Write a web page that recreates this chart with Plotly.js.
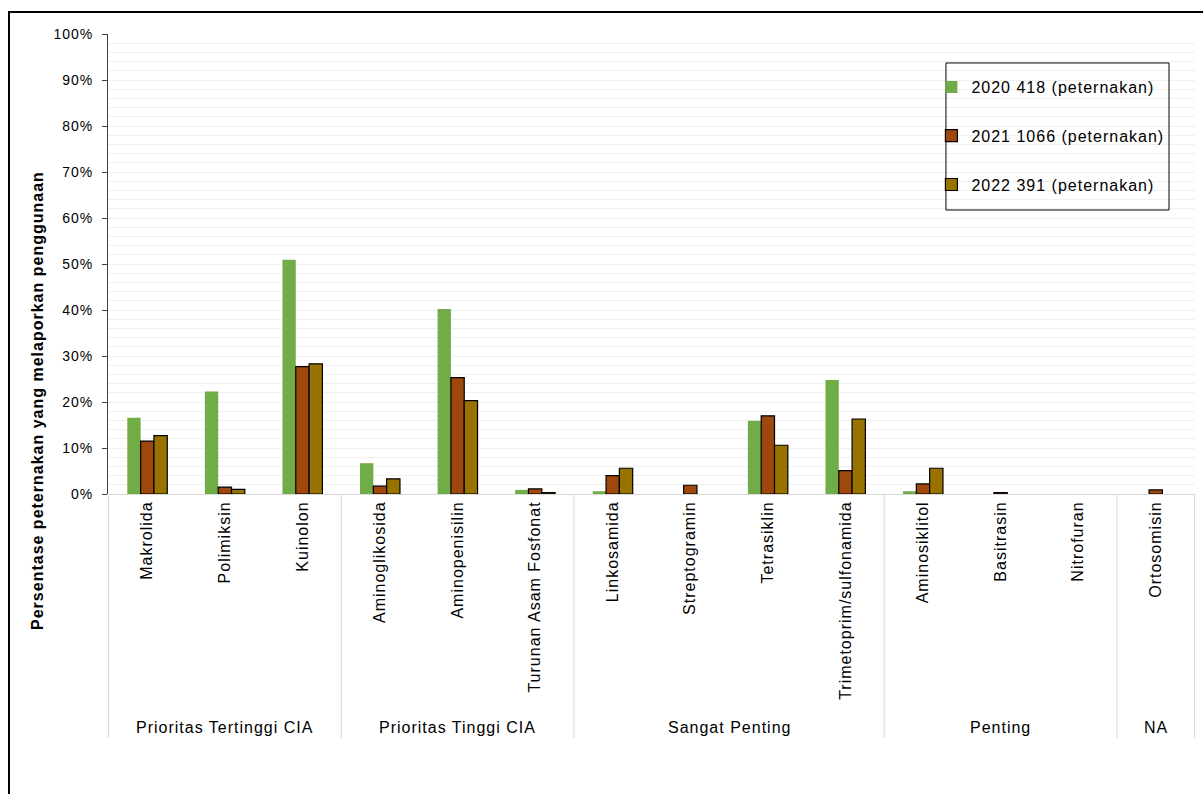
<!DOCTYPE html>
<html>
<head>
<meta charset="utf-8">
<script src="https://cdn.plot.ly/plotly-3.0.1.min.js"></script>
<style>
  html, body { margin: 0; padding: 0; background: #fff; }
  #wrap { position: relative; width: 1203px; height: 794px; overflow: hidden; }
  #chart { position: absolute; left: 0; top: 0; width: 1203px; height: 794px; }
  #frame { position: absolute; left: 8px; top: 11px; width: 1300px; height: 900px;
           border-top: 2px solid #000; border-left: 2px solid #000; pointer-events: none; }
  /* slightly open tracking for all chart text (also applies to Plotly's measuring svg) */
  svg text { letter-spacing: 1px; }
</style>
</head>
<body>
<div id="wrap">
  <div id="chart"></div>
  <div id="frame"></div>
</div>
<script>
// Antimicrobial classes, grouped by WHO importance category
const categories = [
  "Makrolida", "Polimiksin", "Kuinolon",
  "Aminoglikosida", "Aminopenisilin", "Turunan Asam Fosfonat",
  "Linkosamida", "Streptogramin", "Tetrasiklin", "Trimetoprim/sulfonamida",
  "Aminosiklitol", "Basitrasin", "Nitrofuran",
  "Ortosomisin"
];
const groupLabels = ["Prioritas Tertinggi CIA", "Prioritas Tinggi CIA", "Sangat Penting", "Penting", "NA"];
const groupSizes = [3, 3, 4, 3, 1];

// Share of farms reporting use (fraction), per survey year
const seriesNames = ["2020 418 (peternakan)", "2021 1066 (peternakan)", "2022 391 (peternakan)"];
const values2020 = [0.166, 0.223, 0.509, 0.067, 0.402, 0.009, 0.006, null, 0.159, 0.248, 0.006, null, null, null];
const values2021 = [0.115, 0.015, 0.277, 0.017, 0.253, 0.011, 0.040, 0.019, 0.170, 0.051, 0.022, 0.003, null, 0.009];
const values2022 = [0.127, 0.010, 0.283, 0.033, 0.203, 0.003, 0.056, null, 0.106, 0.163, 0.056, null, null, null];

const yTickVals = [0, 0.1, 0.2, 0.3, 0.4, 0.5, 0.6, 0.7, 0.8, 0.9, 1.0];
const yTickText = ["0%", "10%", "20%", "30%", "40%", "50%", "60%", "70%", "80%", "90%", "100%"];

const colors = ["#70AD47", "#9E480E", "#997300"];
const lineColors = ["#70AD47", "#000000", "#000000"];
const lineWidths = [0, 1.2, 1.2];
const allValues = [values2020, values2021, values2022];

const font = "Liberation Sans, Arial, sans-serif";

const traces = allValues.map((vals, i) => ({
  type: "bar",
  name: seriesNames[i],
  x: categories,
  y: vals,
  legendgroup: "g" + i,
  marker: { color: colors[i], line: { color: lineColors[i], width: lineWidths[i] } },
  hovertemplate: "%{x}: %{y:.1%}<extra>" + seriesNames[i] + "</extra>"
}));

// Group dividers below the axis and group labels
const shapes = [];
const annotations = [];
const yDivBottom = -0.531;
let start = 0;
shapes.push({ type: "line", xref: "x", yref: "paper", x0: -0.5, x1: -0.5, y0: 0, y1: yDivBottom,
              line: { color: "#d9d9d9", width: 1 } });
groupLabels.forEach((lbl, gi) => {
  const end = start + groupSizes[gi];
  shapes.push({ type: "line", xref: "x", yref: "paper", x0: end - 0.5, x1: end - 0.5, y0: 0, y1: yDivBottom,
                line: { color: "#d9d9d9", width: 1 } });
  annotations.push({ xref: "x", yref: "paper", x: (start + end - 1) / 2, y: -0.507,
                     text: lbl, showarrow: false, xanchor: "center", yanchor: "middle",
                     font: { family: font, size: 16, color: "#000" } });
  start = end;
});

// Legend frame (unfilled, gridlines show through)
shapes.push({ type: "rect", xref: "paper", yref: "paper", x0: 0.7709, x1: 0.9761, y0: 0.6174, y1: 0.9370,
              line: { color: "#000", width: 1 }, fillcolor: "rgba(0,0,0,0)", layer: "above" });

// Vertical axis title
annotations.push({
  xref: "paper", yref: "paper", x: -0.0655, y: 0.204, textangle: -90,
  text: "<b>Persentase peternakan yang melaporkan penggunaan</b>", showarrow: false,
  xanchor: "center", yanchor: "middle",
  font: { family: font, size: 16, color: "#000" }
});

const layout = {
  width: 1203, height: 794,
  margin: { l: 108, r: 8, t: 34, b: 300, pad: 0 },
  paper_bgcolor: "#ffffff", plot_bgcolor: "#ffffff",
  font: { family: font, size: 14, color: "#000" },
  barmode: "group",
  bargap: 0.485,
  bargroupgap: 0,
  showlegend: true,
  legend: {
    x: 0.7575, y: 0.9217, xanchor: "left", yanchor: "top",
    bgcolor: "rgba(0,0,0,0)", borderwidth: 0,
    traceorder: "grouped", tracegroupgap: 25,
    font: { family: font, size: 16, color: "#000" },
    itemwidth: 30
  },
  xaxis: {
    type: "category",
    tickangle: -90,
    showline: true, linecolor: "#d9d9d9", linewidth: 1,
    ticks: "", showgrid: false, zeroline: false,
    tickfont: { family: font, size: 16, color: "#000" },
    fixedrange: true
  },
  yaxis: {
    range: [0, 1],
    tickvals: yTickVals,
    ticktext: yTickText,
    ticks: "outside", ticklen: 5, tickcolor: "#404040", tickwidth: 1,
    ticklabelstandoff: 6,
    showline: true, linecolor: "#404040", linewidth: 1,
    showgrid: true, gridcolor: "#f0f0f0", gridwidth: 1,
    minor: { dtick: 0.02, showgrid: true, gridcolor: "#f0f0f0", gridwidth: 1 },
    zeroline: false,
    tickfont: { family: font, size: 14, color: "#000" },
    fixedrange: true
  },
  shapes: shapes,
  annotations: annotations
};

Plotly.newPlot("chart", traces, layout, { displayModeBar: false, staticPlot: true });
</script>
</body>
</html>
